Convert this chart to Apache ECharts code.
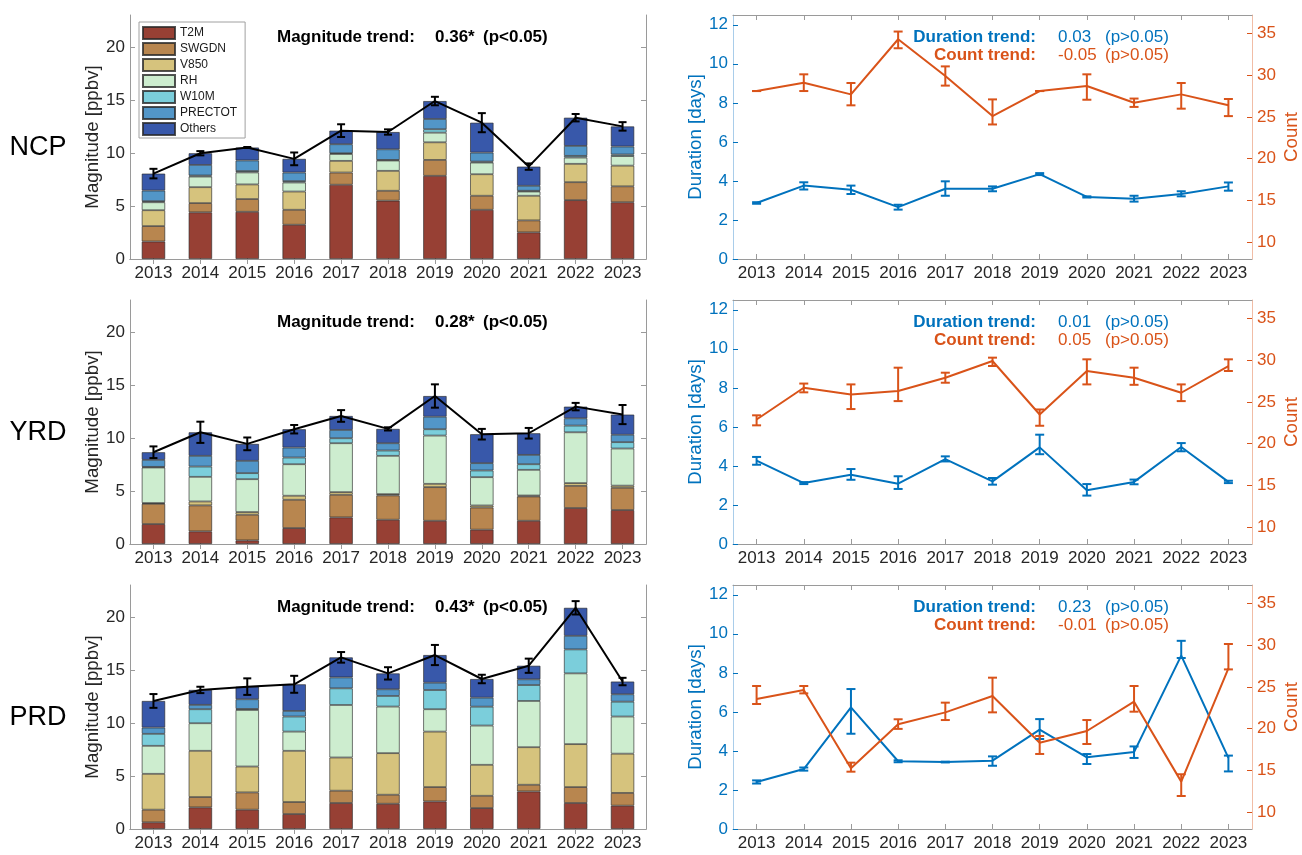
<!DOCTYPE html>
<html>
<head>
<meta charset="utf-8">
<script src="https://cdn.jsdelivr.net/npm/echarts@6/dist/echarts.min.js"></script>
<style>
  html, body { margin: 0; padding: 0; background: #ffffff; }
  #chart { width: 1302px; height: 855px; }
</style>
</head>
<body>
<div id="chart"></div>
<script>
// ---------- data ----------
const years = ['2013', '2014', '2015', '2016', '2017', '2018', '2019', '2020', '2021', '2022', '2023'];
const regions = ['NCP', 'YRD', 'PRD'];
const driverNames = ['T2M', 'SWGDN', 'V850', 'RH', 'W10M', 'PRECTOT', 'Others'];
const driverColors = ['#974034', '#B8864F', '#D6C37D', '#CDEDCF', '#7BCEDB', '#5296C8', '#3858AA'];

// Driver contributions to the episode magnitude [ppbv]
const ncpT2M     = [1.65, 4.40, 4.45, 3.23, 7.00, 5.50, 7.84, 4.64, 2.51, 5.55, 5.35];
const ncpSWGDN   = [1.45, 0.87, 1.20, 1.41, 1.15, 0.93, 1.50, 1.32, 1.13, 1.69, 1.50];
const ncpV850    = [1.50, 1.50, 1.38, 1.72, 1.10, 1.88, 1.66, 2.03, 2.32, 1.73, 1.95];
const ncpRH      = [0.75, 1.00, 1.13, 0.85, 0.65, 0.97, 0.91, 1.10, 0.40, 0.59, 0.90];
const ncpW10M    = [0.10, 0.10, 0.13, 0.13, 0.07, 0.06, 0.32, 0.09, 0.07, 0.16, 0.15];
const ncpPRECTOT = [1.00, 1.00, 1.00, 0.81, 0.85, 1.00, 0.97, 0.85, 0.47, 0.94, 0.75];
const ncpOthers  = [1.60, 1.10, 1.22, 1.29, 1.28, 1.63, 1.69, 2.82, 1.81, 2.66, 1.90];
const ncpMagErr  = [0.45, 0.20, 0.05, 0.60, 0.60, 0.25, 0.40, 0.90, 0.30, 0.35, 0.40];

const yrdT2M     = [1.88, 1.19, 0.34, 1.50, 2.51, 2.29, 2.19, 1.35, 2.19, 3.39, 3.20];
const yrdSWGDN   = [1.91, 2.45, 2.42, 2.67, 2.13, 2.29, 3.17, 2.09, 2.29, 2.09, 2.10];
const yrdV850    = [0.07, 0.37, 0.25, 0.38, 0.25, 0.12, 0.31, 0.19, 0.09, 0.26, 0.20];
const yrdRH      = [3.35, 2.32, 3.10, 2.97, 4.61, 3.61, 4.55, 2.67, 2.42, 4.79, 3.50];
const yrdW10M    = [0.06, 0.97, 0.57, 0.63, 0.47, 0.50, 0.60, 0.63, 0.53, 0.63, 0.60];
const yrdPRECTOT = [0.66, 1.01, 1.16, 0.94, 0.78, 0.69, 1.18, 0.69, 0.88, 0.69, 0.70];
const yrdOthers  = [0.72, 2.22, 1.60, 1.73, 1.32, 1.35, 1.95, 2.73, 2.04, 1.10, 1.90];
const yrdMagErr  = [0.55, 1.00, 0.60, 0.40, 0.55, 0.15, 1.10, 0.50, 0.50, 0.35, 0.90];

const prdT2M     = [0.63, 2.04, 1.82, 1.41, 2.45, 2.38, 2.60, 1.97, 3.54, 2.45, 2.20];
const prdSWGDN   = [1.19, 0.97, 1.63, 1.13, 1.16, 0.85, 1.35, 1.16, 0.63, 1.50, 1.20];
const prdV850    = [3.38, 4.36, 2.44, 4.83, 3.13, 3.92, 5.23, 2.92, 3.54, 4.05, 3.70];
const prdRH      = [2.64, 2.60, 5.33, 1.81, 4.95, 4.39, 2.11, 3.70, 4.36, 6.67, 3.50];
const prdW10M    = [1.13, 1.32, 0.10, 1.42, 1.57, 1.00, 1.81, 1.78, 1.50, 2.26, 1.40];
const prdPRECTOT = [0.59, 0.41, 0.91, 0.53, 1.03, 0.63, 0.69, 0.85, 0.54, 1.28, 0.70];
const prdOthers  = [2.51, 1.41, 1.19, 2.51, 1.89, 1.50, 2.61, 1.76, 1.28, 2.64, 1.20];
const prdMagErr  = [0.65, 0.30, 0.78, 0.80, 0.50, 0.58, 0.95, 0.40, 0.67, 0.63, 0.35];

// Episode duration [days] and count, with [below, above] error extents
const ncpDuration    = [2.87, 3.76, 3.55, 2.66, 3.60, 3.60, 4.35, 3.18, 3.09, 3.33, 3.72];
const ncpDurationErr = [[0.04,0.04],[0.20,0.17],[0.22,0.21],[0.13,0.12],[0.36,0.38],[0.13,0.12],[0.05,0.05],[0.03,0.03],[0.15,0.15],[0.12,0.14],[0.22,0.20]];
const ncpCount       = [28.1, 29.1, 27.7, 34.3, 29.9, 25.1, 28.1, 28.7, 26.7, 27.7, 26.4];
const ncpCountErr    = [[0,0],[1.0,1.0],[1.31,1.36],[1.08,0.92],[1.15,1.15],[1.0,2.0],[0,0],[1.64,1.4],[0.5,0.5],[1.71,1.36],[1.3,0.75]];

const yrdDuration    = [4.27, 3.12, 3.55, 3.09, 4.35, 3.21, 4.95, 2.75, 3.18, 4.97, 3.18];
const yrdDurationErr = [[0.21,0.19],[0.05,0.05],[0.26,0.29],[0.27,0.38],[0.12,0.14],[0.17,0.17],[0.35,0.65],[0.27,0.32],[0.12,0.12],[0.22,0.20],[0.06,0.06]];
const yrdCount       = [22.9, 26.7, 25.9, 26.3, 27.9, 29.9, 23.5, 28.7, 27.9, 26.1, 29.3];
const yrdCountErr    = [[0.7,0.5],[0.55,0.5],[1.75,1.2],[1.2,2.8],[0.6,0.6],[0.6,0.4],[1.35,0.6],[1.6,1.4],[0.85,1.2],[1.0,1.0],[0.6,0.8]];

const prdDuration    = [2.41, 3.07, 6.23, 3.47, 3.43, 3.50, 5.09, 3.67, 3.94, 8.88, 3.64];
const prdDurationErr = [[0.08,0.08],[0.08,0.08],[1.35,0.94],[0.05,0.05],[0.02,0.02],[0.26,0.22],[0.48,0.54],[0.34,0.17],[0.30,0.29],[0.12,0.76],[0.69,0.12]];
const prdCount       = [23.56, 24.63, 15.26, 20.53, 21.96, 23.92, 18.33, 19.73, 23.24, 13.67, 27.22];
const prdCountErr    = [[0.6,1.55],[0.4,0.48],[0.4,0.68],[0.55,0.6],[0.92,1.16],[1.96,2.19],[1.35,0.8],[1.56,1.31],[1.2,1.87],[1.72,0.88],[0.12,2.92]];

// Trend annotations
const magnitudeTrend = ['0.36*', '0.28*', '0.43*'];
const magnitudeP     = ['(p<0.05)', '(p<0.05)', '(p<0.05)'];
const durationTrend  = ['0.03', '0.01', '0.23'];
const durationP      = ['(p>0.05)', '(p>0.05)', '(p>0.05)'];
const countTrend     = ['-0.05', '0.05', '-0.01'];
const countP         = ['(p>0.05)', '(p>0.05)', '(p>0.05)'];

const magnitudeTicks = [0, 5, 10, 15, 20];
const durationTicks  = [0, 2, 4, 6, 8, 10, 12];
const countTicks     = [10, 15, 20, 25, 30, 35];

// ---------- styling ----------
const FONT = "'Liberation Sans', Arial, Helvetica, sans-serif";
const TXT = '#262626';
const BOX = '#9a9a9a';
const EDGE = 'rgba(40,40,40,0.8)';
const BLUE = '#0072BD';
const ORANGE = '#D95319';
const BLUE_LINE = '#a9cdea';
const ORANGE_LINE = '#f1bda6';

const regionDrivers = [
  [ncpT2M, ncpSWGDN, ncpV850, ncpRH, ncpW10M, ncpPRECTOT, ncpOthers],
  [yrdT2M, yrdSWGDN, yrdV850, yrdRH, yrdW10M, yrdPRECTOT, yrdOthers],
  [prdT2M, prdSWGDN, prdV850, prdRH, prdW10M, prdPRECTOT, prdOthers]
];
const regionMagErr = [ncpMagErr, yrdMagErr, prdMagErr];
const regionDuration = [ncpDuration, yrdDuration, prdDuration];
const regionDurationErr = [ncpDurationErr, yrdDurationErr, prdDurationErr];
const regionCount = [ncpCount, yrdCount, prdCount];
const regionCountErr = [ncpCountErr, yrdCountErr, prdCountErr];

const rowTop = [15, 300, 585];
const boxH = 244;
const leftBox = { left: 130, width: 516 };
const rightBox = { left: 733, width: 519 };

const grids = [], xAxes = [], yAxes = [], series = [], graphics = [];

function addGrid(box, top) {
  grids.push({ left: box.left, top: top, width: box.width, height: boxH, show: false });
  return grids.length - 1;
}

function addXAxes(g) {
  const idx = xAxes.length;
  xAxes.push({
    type: 'category', gridIndex: g, data: years, position: 'bottom', boundaryGap: true,
    axisLine: { show: true, lineStyle: { color: BOX, width: 1 } },
    axisTick: { show: true, inside: true, alignWithLabel: true, length: 5, lineStyle: { color: BOX } },
    axisLabel: { color: TXT, fontSize: 17, fontFamily: FONT, margin: 6, interval: 0 },
    splitLine: { show: false }
  });
  xAxes.push({
    type: 'category', gridIndex: g, data: years, position: 'top', boundaryGap: true,
    axisLine: { show: true, lineStyle: { color: BOX, width: 1 } },
    axisTick: { show: true, inside: true, alignWithLabel: true, length: 5, lineStyle: { color: BOX } },
    axisLabel: { show: false }, splitLine: { show: false }
  });
  return idx;
}

function valueAxis(g, pos, min, max, ticks, opts) {
  const a = {
    type: 'value', gridIndex: g, position: pos, min: min, max: max,
    axisLine: { show: true, onZero: false, lineStyle: { color: opts.lineColor, width: 1 } },
    axisTick: { show: true, inside: true, length: 5, customValues: ticks, lineStyle: { color: opts.tickColor } },
    axisLabel: { show: opts.labels, customValues: ticks, color: opts.labelColor, fontSize: 17, fontFamily: FONT, margin: 5 },
    splitLine: { show: false }
  };
  if (opts.name) {
    a.name = opts.name;
    a.nameLocation = 'middle';
    a.nameRotate = 90;
    a.nameGap = opts.nameGap;
    a.nameTextStyle = { color: opts.labelColor, fontSize: 18.7, fontFamily: FONT };
  }
  yAxes.push(a);
  return yAxes.length - 1;
}

function errorBars(color, halfCap, width) {
  return function (params, api) {
    const x = api.value(0);
    const p1 = api.coord([x, api.value(1)]);
    const p2 = api.coord([x, api.value(2)]);
    const style = { stroke: color, lineWidth: width, fill: null };
    return {
      type: 'group',
      children: [
        { type: 'line', shape: { x1: p1[0], y1: p1[1], x2: p2[0], y2: p2[1] }, style: style },
        { type: 'line', shape: { x1: p1[0] - halfCap, y1: p1[1], x2: p1[0] + halfCap, y2: p1[1] }, style: style },
        { type: 'line', shape: { x1: p2[0] - halfCap, y1: p2[1], x2: p2[0] + halfCap, y2: p2[1] }, style: style }
      ]
    };
  };
}

function text(x, y, str, opts) {
  const align = opts.align || 'left';
  graphics.push({
    type: 'text', x: x, y: y, silent: true,
    style: {
      text: str, fill: opts.color || '#000',
      font: (opts.bold ? 'bold ' : '') + opts.size + 'px ' + FONT,
      textAlign: align, align: align,
      textVerticalAlign: 'middle', verticalAlign: 'middle'
    }
  });
}

regions.forEach(function (region, r) {
  const top = rowTop[r];

  // ---- stacked driver bars with total magnitude ----
  const gL = addGrid(leftBox, top);
  const xL = addXAxes(gL);
  const yL = valueAxis(gL, 'left', 0, 23, magnitudeTicks,
    { lineColor: BOX, tickColor: BOX, labelColor: TXT, labels: true, name: 'Magnitude [ppbv]', nameGap: 27 });
  valueAxis(gL, 'right', 0, 23, magnitudeTicks,
    { lineColor: BOX, tickColor: BOX, labelColor: TXT, labels: false });

  const drivers = regionDrivers[r];
  driverNames.forEach(function (name, k) {
    series.push({
      type: 'bar', name: name, xAxisIndex: xL, yAxisIndex: yL, stack: 'mag' + r,
      data: drivers[k], barWidth: '50%', z: 2,
      itemStyle: { color: driverColors[k], borderColor: EDGE, borderWidth: 0.8 },
      emphasis: { disabled: true }, silent: true
    });
  });
  const totals = years.map(function (y, i) {
    return +drivers.reduce(function (s, arr) { return s + arr[i]; }, 0).toFixed(2);
  });
  series.push({
    type: 'line', name: region + ' total', xAxisIndex: xL, yAxisIndex: yL, data: totals,
    symbol: 'none', z: 5, lineStyle: { color: '#000', width: 2 }, silent: true
  });
  series.push({
    type: 'custom', xAxisIndex: xL, yAxisIndex: yL, z: 6, silent: true,
    renderItem: errorBars('#000', 4, 2),
    encode: { x: 0, y: [1, 2] },
    data: totals.map(function (v, i) { return [i, v - regionMagErr[r][i], v + regionMagErr[r][i]]; })
  });

  // ---- duration and count ----
  const gR = addGrid(rightBox, top);
  const xR = addXAxes(gR);
  const yD = valueAxis(gR, 'left', 0, 12.5, durationTicks,
    { lineColor: BLUE_LINE, tickColor: BLUE, labelColor: BLUE, labels: true, name: 'Duration [days]', nameGap: 26 });
  const yC = valueAxis(gR, 'right', 8, 37.2, countTicks,
    { lineColor: ORANGE_LINE, tickColor: ORANGE, labelColor: ORANGE, labels: true, name: 'Count', nameGap: 30 });

  [[regionDuration[r], regionDurationErr[r], yD, BLUE, 'duration'],
   [regionCount[r], regionCountErr[r], yC, ORANGE, 'count']].forEach(function (s) {
    const vals = s[0], errs = s[1];
    series.push({
      type: 'line', name: region + ' ' + s[4], xAxisIndex: xR, yAxisIndex: s[2], data: vals,
      symbol: 'none', z: 5, lineStyle: { color: s[3], width: 2 }, silent: true
    });
    series.push({
      type: 'custom', xAxisIndex: xR, yAxisIndex: s[2], z: 6, silent: true,
      renderItem: errorBars(s[3], 4.5, 2),
      encode: { x: 0, y: [1, 2] },
      data: vals.map(function (v, i) { return [i, v - errs[i][0], v + errs[i][1]]; })
    });
  });

  // ---- annotations ----
  text(38, top + 133, region, { size: 27, align: 'center' });
  text(277, top + 22, 'Magnitude trend:', { size: 17, bold: true });
  text(435, top + 22, magnitudeTrend[r], { size: 17, bold: true });
  text(483, top + 22, magnitudeP[r], { size: 17, bold: true });

  text(1036, top + 22, 'Duration trend:', { size: 17, bold: true, color: BLUE, align: 'right' });
  text(1058, top + 22, durationTrend[r], { size: 17, color: BLUE });
  text(1105, top + 22, durationP[r], { size: 17, color: BLUE });
  text(1036, top + 40, 'Count trend:', { size: 17, bold: true, color: ORANGE, align: 'right' });
  text(1058, top + 40, countTrend[r], { size: 17, color: ORANGE });
  text(1105, top + 40, countP[r], { size: 17, color: ORANGE });
});

const chart = echarts.init(document.getElementById('chart'), null, { renderer: 'canvas' });
chart.setOption({
  animation: false,
  backgroundColor: '#ffffff',
  textStyle: { fontFamily: FONT },
  legend: {
    data: driverNames, orient: 'vertical', left: 139, top: 22,
    itemWidth: 32, itemHeight: 12, itemGap: 2, icon: 'rect',
    padding: [4, 8, 2, 3], borderColor: '#a0a0a0', borderWidth: 1, backgroundColor: '#ffffff',
    selectedMode: false,
    textStyle: { fontSize: 12, fontFamily: FONT, color: '#1a1a1a' }
  },
  grid: grids,
  xAxis: xAxes,
  yAxis: yAxes,
  series: series,
  graphic: graphics
});
</script>
</body>
</html>
